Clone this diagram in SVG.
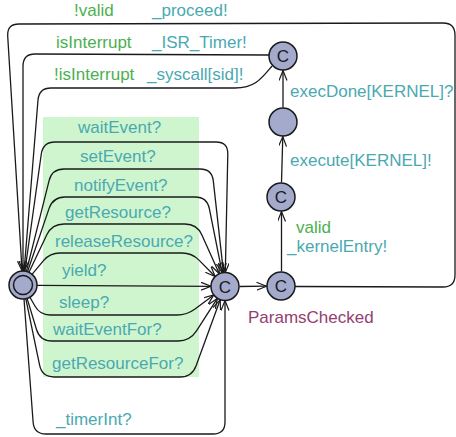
<svg xmlns="http://www.w3.org/2000/svg" width="456" height="437" viewBox="0 0 456 437">
<defs>
<marker id="arr" markerUnits="userSpaceOnUse" markerWidth="12" markerHeight="10" refX="10" refY="4" orient="auto">
<path d="M0,0 L10,4 L0,8" fill="none" stroke="#1a1a1a" stroke-width="1.2"/>
</marker>
</defs>
<style>
.bg{fill:#cff5cf}
.e{fill:none;stroke:#1a1a1a;stroke-width:1.3}
.a{marker-end:url(#arr)}
.n{fill:#a4aacc;stroke:#1a1a1a;stroke-width:1.5}
.t{font-family:"Liberation Sans",Arial,sans-serif;font-size:17px}
.g{fill:#4cb050}
.s{fill:#4aa9b0}
.p{fill:#94406e}
.c{font-family:"Liberation Sans",Arial,sans-serif;font-size:17px;fill:#1a1a1a;text-anchor:middle}
</style>
<rect class="bg" x="43" y="117" width="156" height="260"/>
<g id="connectors">
<path id="e_proceed" class="e a" d="M295,286.5 L443,287 Q455,287 455,275 L455,35 Q455,23 443,23 L19,24 Q7,24 7.7,36 L22.1,271"/>
<path id="e_isr" class="e a" d="M269,55 L35,54 Q23,54 23,66 L23,271"/>
<path id="e_syscall" class="e a" d="M272,66 C262,78 255,88 235,88 L51,88 Q39,88 38,100 L24.1,271"/>
<path id="e_waitEvent" class="e a" d="M24.9,271 L41.3,154 Q43,142 55,142 L216,142 Q228,142 227.8,154 L225.3,272.5"/>
<path id="e_setEvent" class="e a" d="M26.4,271.4 L49.1,180.6 Q52,169 64,169 L200,169 Q212,169 213.3,180.9 L223.5,272.6"/>
<path id="e_notifyEvent" class="e a" d="M27.5,271.8 L49.1,208.4 Q53,197 65,197 L195,197 Q207,197 209.4,208.8 L222.2,272.8"/>
<path id="e_getResource" class="e a" d="M29,272.3 L46.8,234.8 Q52,224 64,224 L185,224 Q197,224 201.9,234.9 L219.3,273.7"/>
<path id="e_releaseResource" class="e a" d="M32,274.3 L43.5,260.6 Q50,253 60,253 L182,253 Q192,253 199,260.1 L215.2,276.5"/>
<path id="e_yield" class="e a" d="M37,285.3 L211,286.3"/>
<path id="e_sleep" class="e a" d="M29.9,297.2 L35.1,306.3 Q40,315 50,315 L177,315 Q187,315 195,309 L213.8,294.9"/>
<path id="e_waitEventFor" class="e a" d="M27.1,298.4 L36.5,329.5 Q40,341 52,341 L178,341 Q190,341 196.5,330.9 L217.4,298.3"/>
<path id="e_getResourceFor" class="e a" d="M25.8,298.7 L39.6,365.2 Q42,377 54,377 L180,377 Q192,377 196.1,365.7 L220.2,299.7"/>
<path id="e_timerInt" class="e a" d="M24,299 L33.1,422 Q34,434 46,434 L213,434 Q225,434 225,422 L225,300.5"/>
<path id="e_toParams" class="e a" d="M239.5,286.5 L266.5,286.2"/>
<path id="e_kernelEntry" class="e a" d="M281.5,271.5 L281.5,211.5"/>
<path id="e_execute" class="e a" d="M281.5,182.5 L282.8,136.5"/>
<path id="e_execDone" class="e a" d="M283,107.5 L283,70.5"/>
</g>
<g id="labels">
<text class="t g" x="74" y="16">!valid</text>
<text class="t s" x="152" y="16">_proceed!</text>
<text class="t g" x="56" y="48">isInterrupt</text>
<text class="t s" x="152" y="48">_ISR_Timer!</text>
<text class="t g" x="54" y="80">!isInterrupt</text>
<text class="t s" x="147" y="80">_syscall[sid]!</text>
<text class="t s" x="78" y="133">waitEvent?</text>
<text class="t s" x="80" y="162">setEvent?</text>
<text class="t s" x="74" y="191">notifyEvent?</text>
<text class="t s" x="65" y="218">getResource?</text>
<text class="t s" x="55" y="247">releaseResource?</text>
<text class="t s" x="62" y="276">yield?</text>
<text class="t s" x="59" y="308">sleep?</text>
<text class="t s" x="53" y="335">waitEventFor?</text>
<text class="t s" x="52" y="369">getResourceFor?</text>
<text class="t s" x="56" y="425">_timerInt?</text>
<text class="t s" x="290" y="97">execDone[KERNEL]?</text>
<text class="t s" x="290" y="166">execute[KERNEL]!</text>
<text class="t g" x="296" y="233">valid</text>
<text class="t s" x="287" y="252">_kernelEntry!</text>
</g>
<g id="n_init">
<circle class="n" cx="23" cy="285" r="14"/>
<circle cx="23" cy="285" r="9.5" fill="none" stroke="#1a1a1a" stroke-width="1.5"/>
</g>
<g id="n_check">
<circle class="n" cx="225" cy="286.5" r="14"/>
<text class="c" x="225" y="292.5">C</text>
</g>
<g id="n_params">
<circle class="n" cx="281" cy="286" r="14"/>
<text class="c" x="281" y="292">C</text>
<text class="t p" x="248" y="323">ParamsChecked</text>
</g>
<g id="n_kentry">
<circle class="n" cx="281" cy="197" r="14"/>
<text class="c" x="281" y="203">C</text>
</g>
<g id="n_exec">
<circle class="n" cx="283" cy="122" r="14"/>
</g>
<g id="n_done">
<circle class="n" cx="283" cy="56" r="14"/>
<text class="c" x="283" y="62">C</text>
</g>
</svg>
